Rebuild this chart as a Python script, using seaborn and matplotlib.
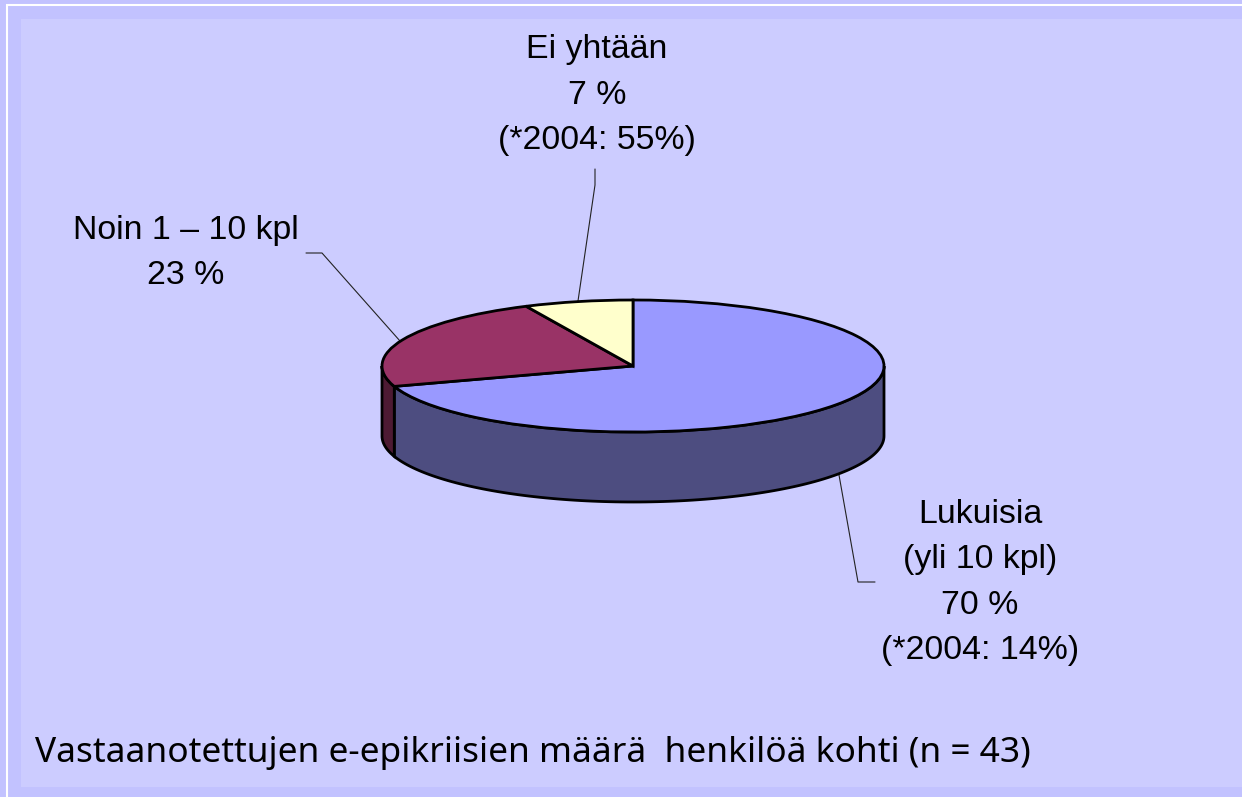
# e-epikriisi pie chart, drawn flat and tilted with a wall under it
import numpy as np
import matplotlib
matplotlib.use('Agg')
import matplotlib.pyplot as plt
from matplotlib.patches import Rectangle
import seaborn as sns

# data
categories = ['Lukuisia', 'Noin 1 – 10 kpl', 'Ei yhtään']
shares = [70, 23, 7]
label_ei = 'Ei yhtään\n7 %\n(*2004: 55%)'
label_noin = 'Noin 1 – 10 kpl\n23 %'
label_lukuisia = 'Lukuisia\n(yli 10 kpl)\n70 %\n(*2004: 14%)'
footer = 'Vastaanotettujen e-epikriisien määrä  henkilöä kohti (n = 43)'

# colours
outer_bg = '#C2C2FF'
panel_bg = '#CCCCFF'
palette = sns.color_palette(['#9999FF', '#993366', '#FFFFCC'])

W, H = 1242, 797
sns.set_theme(style='white')
plt.rcParams['font.family'] = ['Liberation Sans', 'DejaVu Sans']

fig = plt.figure(figsize=(W / 100, H / 100), dpi=100, facecolor=outer_bg)

# background axes in pixels, holds frame, texts and leader lines
bg = fig.add_axes([0, 0, 1, 1])
bg.set_xlim(0, W)
bg.set_ylim(H, 0)
bg.axis('off')
bg.add_patch(Rectangle((21, 19), W - 21, 768, facecolor=panel_bg, edgecolor='none'))
bg.plot([7, 7, W], [H, 5, 5], color='white', lw=1.5, solid_joinstyle='miter')

leader = dict(color='#222222', lw=0.8)
bg.plot([595, 595, 578], [169, 185, 301], **leader)
bg.plot([306, 322, 400], [253, 253, 341], **leader)
bg.plot([839, 858, 875], [475, 582, 582], **leader)

label_style = dict(ha='center', va='baseline', multialignment='center',
                   fontsize=24.4, color='black', linespacing=1.6)
bg.text(597, 149, label_ei, **label_style)
bg.text(186, 284, label_noin, **label_style)
bg.text(980, 659, label_lukuisia, **label_style)
bg.text(35, 762, footer, ha='left', va='baseline', fontsize=25.4,
        color='black', family=['Noto Sans', 'DejaVu Sans'])

# pie axes: x radius 251 px, y radius 66 px, wall 70 px
depth = 70 / 66
ax = fig.add_axes([382 / W, (H - 502) / H, 502 / W, 202 / H], zorder=2)

# walls, only the front half (90..270 deg clockwise from the top) is seen
edges = np.cumsum([0] + shares) / sum(shares) * 360
for i, colour in enumerate(palette):
    start = max(edges[i], 90)
    stop = min(edges[i + 1], 270)
    if stop <= start:
        continue
    t = np.radians(np.linspace(start, stop, 120))
    x = np.sin(t)
    y = np.cos(t)
    ax.fill(np.r_[x, x[::-1]], np.r_[y, y[::-1] - depth],
            facecolor=tuple(c * 0.5 for c in colour), edgecolor='black',
            lw=2, clip_on=False)

ax.pie(shares, colors=palette, startangle=90, counterclock=False, radius=1,
       wedgeprops=dict(edgecolor='black', lw=2, clip_on=False))
ax.set_aspect('auto')
ax.set_xlim(-1, 1)
ax.set_ylim(-1 - depth, 1)

fig.savefig('out.png', dpi=100, facecolor=outer_bg)
